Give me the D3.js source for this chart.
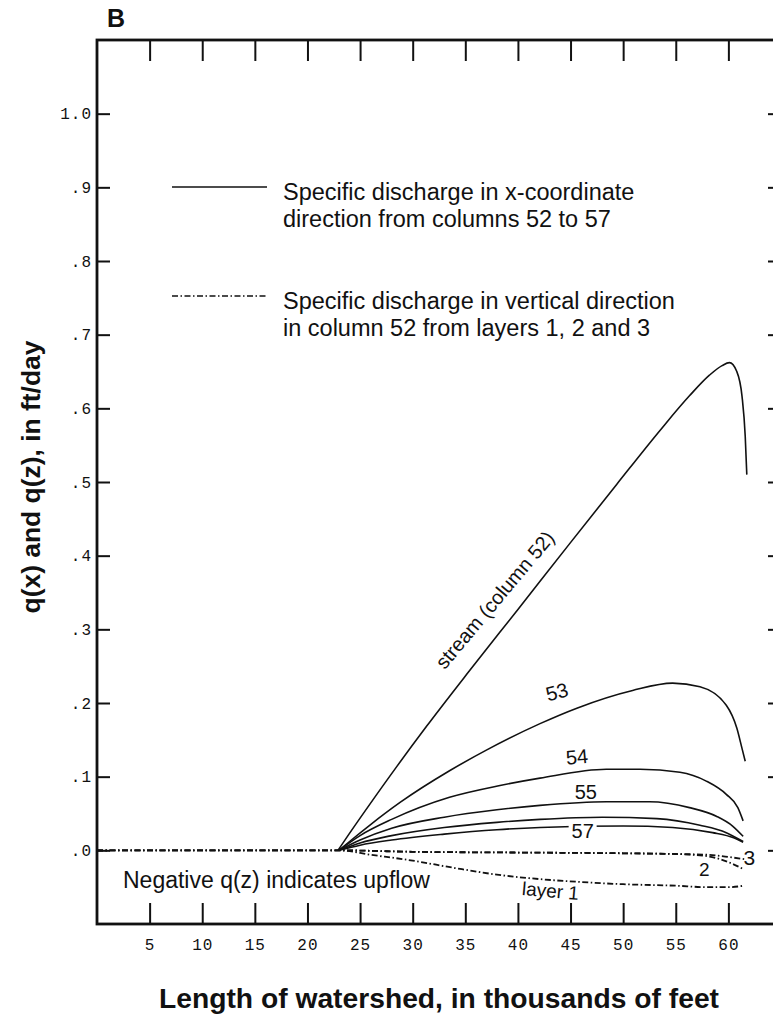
<!DOCTYPE html>
<html>
<head>
<meta charset="utf-8">
<script src="https://cdn.jsdelivr.net/npm/d3@7"></script>
<style>
  body { margin: 0; background: #fff; }
  text { font-family: "Liberation Sans", Arial, sans-serif; fill: #111; }
  .tick text { font-family: "Liberation Mono", "DejaVu Sans Mono", monospace; font-size: 16px; letter-spacing: 1px; }
</style>
</head>
<body>
<div id="chart"></div>
<script>
// Specific discharge q(x) and q(z) along the watershed (panel B)

// x = thousands of feet, q = ft/day
var col52 = [[22.9, 0], [23.8, 0.019], [25.7, 0.058], [28.5, 0.114], [31.3, 0.168], [35.3, 0.242], [40, 0.327],
    [44.9, 0.416], [49.4, 0.497], [53.5, 0.57], [56.3, 0.617], [58.2, 0.645], [59.4, 0.658], [60.1, 0.662],
    [60.8, 0.65], [61.3, 0.616], [61.6, 0.562], [61.75, 0.51]];
var col53 = [[23, 0], [24, 0.012], [26, 0.035], [28.8, 0.065], [33.5, 0.108], [37, 0.136], [42.1, 0.172],
    [45.6, 0.193], [50.9, 0.217], [54.7, 0.227], [57.3, 0.222], [59.8, 0.197], [60.8, 0.166], [61.3, 0.138], [61.6, 0.121]];
var col54 = [[23, 0], [25, 0.02], [28, 0.042], [33.5, 0.072], [38.3, 0.088], [42.1, 0.098], [48.4, 0.11],
    [51.6, 0.11], [55.4, 0.106], [57.9, 0.094], [59.8, 0.076], [60.9, 0.058], [61.4, 0.04]];
var col55 = [[23, 0], [25, 0.014], [28, 0.03], [33, 0.045], [38, 0.055], [42.1, 0.061], [48.4, 0.066],
    [52.5, 0.066], [56.3, 0.058], [58.9, 0.046], [60.4, 0.033], [61.4, 0.019]];
var col56 = [[23, 0], [25, 0.01], [28, 0.02], [33, 0.031], [38, 0.038], [42.1, 0.042], [48, 0.045],
    [53.2, 0.043], [57.3, 0.034], [59.8, 0.024], [61.4, 0.012]];
var col57 = [[23, 0], [25, 0.007], [28, 0.014], [33, 0.022], [38, 0.028], [42.1, 0.031], [50, 0.033],
    [54.7, 0.031], [58.5, 0.024], [60.5, 0.017], [61.4, 0.011]];

var layer1 = [[0, 0], [23, 0], [26, -0.006], [30, -0.014], [34, -0.024], [38, -0.033], [42, -0.039],
    [46, -0.043], [50, -0.046], [55, -0.048], [58, -0.05], [60, -0.05], [61.5, -0.048]];
var layer2 = [[0, 0], [23, 0], [30, -0.002], [40, -0.003], [50, -0.004], [55, -0.005], [58, -0.008],
    [60, -0.016], [61.5, -0.026]];
var layer3 = [[0, 0], [23, 0], [30, -0.002], [40, -0.003], [50, -0.004], [55, -0.005], [58, -0.006],
    [60, -0.009], [61.5, -0.012]];

var xTicks = [5, 10, 15, 20, 25, 30, 35, 40, 45, 50, 55, 60];
var yTicks = [0, 0.1, 0.2, 0.3, 0.4, 0.5, 0.6, 0.7, 0.8, 0.9, 1.0];
var yTickLabels = [".0", ".1", ".2", ".3", ".4", ".5", ".6", ".7", ".8", ".9", "1.0"];

// curve labels: text, x, q, rotation, size
var curveLabels = [
    ["stream (column 52)", 37.8, 0.34, -50, 20],
    ["53", 43.7, 0.215, -15, 20],
    ["54", 45.6, 0.127, -5, 20],
    ["55", 46.45, 0.079, 0, 20],
    ["3", 62.0, -0.010, 0, 21],
    ["2", 57.7, -0.026, 0, 19],
    ["layer 1", 43.1, -0.055, 5, 19]
];

var legendItems = [
    {lines: ["Specific discharge in x-coordinate", "direction from columns 52 to 57"], dash: null},
    {lines: ["Specific discharge in vertical direction", "in column 52 from layers 1, 2 and 3"], dash: "6,2.5,1.5,2.5"}
];

var svgWidth = 773;
var svgHeight = 1019;
var margin = {top: 40, left: 97};
var chartWidth = 684;
var chartHeight = 884;
var dashDot = "6,2.5,1.5,2.5";

var svg = d3.select("#chart")
    .append("svg")
    .attr("width", svgWidth)
    .attr("height", svgHeight);

var chartGroup = svg.append("g")
    .attr("transform", `translate(${margin.left}, ${margin.top})`);

var xScale = d3.scaleLinear().domain([0, 65]).range([0, chartWidth]);
var yScale = d3.scaleLinear().domain([-0.1, 1.1]).range([chartHeight, 0]);

// axes (ticks pointing inward)
var topAxis = d3.axisBottom(xScale).tickValues(xTicks).tickSizeInner(21).tickSizeOuter(0).tickFormat("");
var bottomAxis = d3.axisBottom(xScale).tickValues(xTicks).tickSizeInner(-21).tickSizeOuter(0).tickPadding(15);
var leftAxis = d3.axisLeft(yScale).tickValues(yTicks).tickSizeInner(-13).tickSizeOuter(0).tickPadding(5)
    .tickFormat((d, i) => yTickLabels[i]);
var rightAxis = d3.axisRight(yScale).tickValues(yTicks).tickSizeInner(-13).tickSizeOuter(0).tickFormat("");

chartGroup.append("g").call(topAxis);
chartGroup.append("g").attr("transform", `translate(0, ${chartHeight})`).call(bottomAxis);
chartGroup.append("g").call(leftAxis);
chartGroup.append("g").attr("transform", `translate(${chartWidth}, 0)`).call(rightAxis);

chartGroup.selectAll(".domain").remove();
chartGroup.selectAll(".tick line").attr("stroke", "#111").attr("stroke-width", 2);
chartGroup.selectAll(".tick text").attr("fill", "#111");

// frame
chartGroup.append("rect")
    .attr("width", chartWidth)
    .attr("height", chartHeight)
    .attr("fill", "none")
    .attr("stroke", "#111")
    .attr("stroke-width", 2.8);

var line = d3.line()
    .x(d => xScale(d[0]))
    .y(d => yScale(d[1]))
    .curve(d3.curveMonotoneX);

[col52, col53, col54, col55, col56, col57].forEach(function (s) {
    chartGroup.append("path")
        .datum(s)
        .attr("d", line)
        .attr("fill", "none")
        .attr("stroke", "#111")
        .attr("stroke-width", 1.6);
});

[layer1, layer2, layer3].forEach(function (s) {
    chartGroup.append("path")
        .datum(s)
        .attr("d", line)
        .attr("fill", "none")
        .attr("stroke", "#111")
        .attr("stroke-width", 1.8)
        .attr("stroke-dasharray", dashDot);
});

// curve labels
curveLabels.forEach(function (l) {
    chartGroup.append("text")
        .attr("transform", `translate(${xScale(l[1])}, ${yScale(l[2])}) rotate(${l[3]})`)
        .attr("text-anchor", "middle")
        .attr("dy", "0.35em")
        .style("font-size", l[4] + "px")
        .text(l[0]);
});

// "57" sits on its line, which is broken around it
var lab57 = chartGroup.append("g")
    .attr("transform", `translate(${xScale(46.15)}, ${yScale(0.0265)})`);
lab57.append("rect")
    .attr("x", -14).attr("y", -9).attr("width", 28).attr("height", 18)
    .attr("fill", "#fff");
lab57.append("text")
    .attr("text-anchor", "middle")
    .attr("dy", "0.35em")
    .style("font-size", "20px")
    .text("57");

chartGroup.append("text")
    .attr("x", 26)
    .attr("y", yScale(-0.051))
    .style("font-size", "23px")
    .text("Negative q(z) indicates upflow");

// legend
legendItems.forEach(function (item, i) {
    var gy = 147 + i * 109;
    var g = chartGroup.append("g").attr("transform", `translate(0, ${gy})`);
    g.append("line")
        .attr("x1", 75).attr("x2", 170)
        .attr("y1", 0).attr("y2", 0)
        .attr("stroke", "#111")
        .attr("stroke-width", 1.3)
        .attr("stroke-dasharray", item.dash);
    item.lines.forEach(function (t, j) {
        g.append("text")
            .attr("x", 186)
            .attr("y", 13 + j * 27)
            .style("font-size", "23.5px")
            .text(t);
    });
});

// panel letter
svg.append("text")
    .attr("x", 107)
    .attr("y", 27)
    .style("font-size", "25px")
    .style("font-weight", "bold")
    .text("B");

// axis titles
svg.append("text")
    .attr("transform", `translate(40, 477) rotate(-90)`)
    .attr("text-anchor", "middle")
    .attr("textLength", 273)
    .attr("lengthAdjust", "spacingAndGlyphs")
    .style("font-size", "26px")
    .style("font-weight", "bold")
    .text("q(x) and q(z), in ft/day");

svg.append("text")
    .attr("x", margin.left + chartWidth / 2)
    .attr("y", 1008)
    .attr("text-anchor", "middle")
    .attr("textLength", 560)
    .attr("lengthAdjust", "spacingAndGlyphs")
    .style("font-size", "27px")
    .style("font-weight", "bold")
    .text("Length of watershed, in thousands of feet");
</script>
</body>
</html>
